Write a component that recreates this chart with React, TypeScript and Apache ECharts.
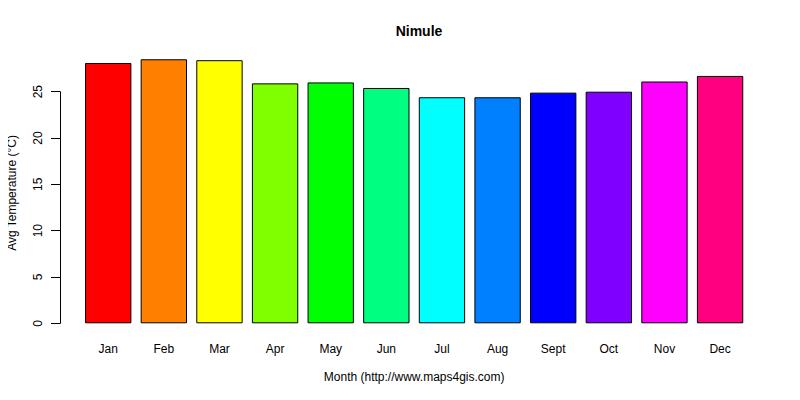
import React, { useEffect, useRef } from 'react';
import * as echarts from 'echarts';

const months = ['Jan', 'Feb', 'Mar', 'Apr', 'May', 'Jun', 'Jul', 'Aug', 'Sept', 'Oct', 'Nov', 'Dec'];
const avgTemp = [28.1, 28.5, 28.4, 25.9, 26.0, 25.4, 24.4, 24.4, 24.9, 25.0, 26.1, 26.7];
const barColors = [
  '#FF0000', '#FF8000', '#FFFF00', '#80FF00', '#00FF00', '#00FF80',
  '#00FFFF', '#0080FF', '#0000FF', '#8000FF', '#FF00FF', '#FF0080',
];

const FONT = '"Liberation Sans", Arial, sans-serif';

const App: React.FC = () => {
  const divEL = useRef<HTMLDivElement>(null);

  useEffect(() => {
    const instance = echarts.init(divEL.current as any, null, { renderer: 'svg' });

    const option: echarts.EChartsOption = {
      animation: false,
      backgroundColor: '#ffffff',
      textStyle: { fontFamily: FONT, color: '#000' },
      title: {
        text: 'Nimule',
        left: 414,
        top: 19,
        textAlign: 'center',
        textStyle: { fontSize: 14, fontWeight: 'bold', color: '#000', fontFamily: FONT },
      },
      grid: {
        left: 80.4,
        right: 52.1,
        top: 91.7,
        bottom: 76.7,
      },
      xAxis: {
        type: 'category',
        data: months,
        axisLine: { show: false },
        axisTick: { show: false },
        axisLabel: { color: '#000', fontSize: 12, margin: 20, fontFamily: FONT, interval: 0 },
        name: 'Month (http://www.maps4gis.com)',
        nameLocation: 'middle',
        nameGap: 48,
        nameTextStyle: { color: '#000', fontSize: 12, fontFamily: FONT },
      },
      yAxis: {
        type: 'value',
        min: 0,
        max: 25,
        interval: 5,
        offset: 20.4,
        splitLine: { show: false },
        axisLine: { show: true, lineStyle: { color: '#000', width: 1 } },
        axisTick: { show: true, length: 9, lineStyle: { color: '#000', width: 1 } },
        axisLabel: { color: '#000', fontSize: 12, rotate: 90, margin: 16, fontFamily: FONT },
      },
      graphic: [
        {
          type: 'text',
          x: 12,
          y: 193,
          rotation: Math.PI / 2,
          style: {
            text: 'Avg Temperature (°C)',
            fontSize: 12,
            fontFamily: FONT,
            fill: '#000',
            align: 'center',
            verticalAlign: 'middle',
          },
        },
      ],
      series: [
        {
          type: 'bar',
          clip: false,
          barCategoryGap: '16.7%',
          data: avgTemp.map((v, i) => ({
            value: v,
            itemStyle: { color: barColors[i] },
          })),
          itemStyle: { borderColor: '#000', borderWidth: 1 },
        },
      ],
    };

    instance.setOption(option);

    return () => {
      instance.dispose();
    };
  }, []);

  return <div ref={divEL} style={{ width: 800, height: 400, margin: -8 }}></div>;
};

export default App;
